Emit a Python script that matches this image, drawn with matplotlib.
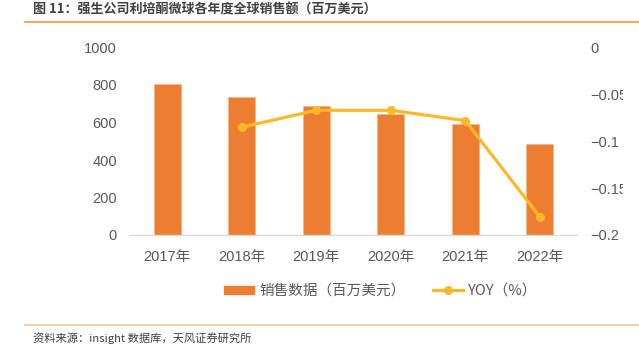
import matplotlib
matplotlib.use("Agg")
import matplotlib.pyplot as plt
from matplotlib.lines import Line2D
from matplotlib.patches import Patch
from matplotlib.transforms import Bbox, TransformedBbox
from matplotlib.ticker import FixedLocator, FixedFormatter

plt.rcParams['font.family'] = ['Liberation Sans', 'Noto Sans CJK SC', 'DejaVu Sans']
plt.rcParams['axes.unicode_minus'] = True

years = ["2017年", "2018年", "2019年", "2020年", "2021年", "2022年"]
sales = [805, 738, 688, 644, 594, 485]
yoy_years = ["2018年", "2019年", "2020年", "2021年", "2022年"]
yoy = [-0.085, -0.067, -0.067, -0.078, -0.1805]

left_ticks = [0, 200, 400, 600, 800, 1000]
right_ticks = [0, -0.05, -0.1, -0.15, -0.2]
right_labels = ["0", "\u22120.05", "\u22120.1", "\u22120.15", "\u22120.2"]

title = "图 11：强生公司利培酮微球各年度全球销售额（百万美元）"
source = "资料来源：insight 数据库，天风证券研究所"

bar_color = "#ED7D31"
line_color = "#FBB829"
tick_color = "#595959"

fig = plt.figure(figsize=(6.39, 3.51), dpi=100)
ax = fig.add_axes([130/639, 1-235/351, (577-130)/639, (235-47.5)/351])
x = list(range(len(years)))
ax.bar(x, sales, width=0.36, color=bar_color, edgecolor="#F4B183", linewidth=0.4, zorder=2)
ax.set_xlim(-0.5, len(years)-0.5)
ax.set_ylim(0, 1000)
ax.set_yticks(left_ticks)
ax.set_yticklabels([str(t) for t in left_ticks])
ax.set_xticks(x)
ax.set_xticklabels(years, fontfamily=['Liberation Sans', 'Noto Sans CJK SC'])
ax.tick_params(axis='y', length=0, pad=9.5, labelsize=10.5, labelcolor=tick_color)
ax.tick_params(axis='x', length=0, pad=11, labelsize=10.5, labelcolor=tick_color)
for s in ['top', 'right', 'left']:
    ax.spines[s].set_visible(False)
ax.spines['bottom'].set_color('#D9D9D9')
ax.spines['bottom'].set_linewidth(1.0)

ax2 = ax.twinx()
xi = [years.index(y) for y in yoy_years]
ax2.plot(xi, yoy, color=line_color, linewidth=2.3, marker='o', markersize=5.5, zorder=3)
ax2.set_ylim(-0.2, 0)
ax2.yaxis.set_major_locator(FixedLocator(right_ticks))
ax2.yaxis.set_major_formatter(FixedFormatter(right_labels))
ax2.tick_params(axis='y', length=0, pad=9.3, labelsize=10.5, labelcolor=tick_color)
for s in ['top', 'right', 'left', 'bottom']:
    ax2.spines[s].set_visible(False)

# the reference image is cropped at about x = 623 px: clip right tick labels there
clipbox = TransformedBbox(Bbox([[0, 0], [623/639, 1]]), fig.transFigure)
for t in ax2.yaxis.get_major_ticks():
    t.label2.set_clip_box(clipbox)
    t.label2.set_clip_on(True)

handles = [Patch(facecolor=bar_color, edgecolor=bar_color),
           Line2D([0], [0], color=line_color, linewidth=2.3, marker='o', markersize=5.5)]
labels = ["销售数据（百万美元）", "YOY（%）"]
fig.legend(handles, labels, loc='center', bbox_to_anchor=(381/639, 1-291/351), ncol=2,
           frameon=False, labelcolor=tick_color, handlelength=2.05,
           handleheight=0.5, columnspacing=1.9, handletextpad=0.35,
           prop={'family': ['Noto Sans CJK SC', 'Liberation Sans'], 'size': 10.5})

fig.text(33/639, 1-10/351, title, fontsize=9.4, fontweight='bold', color='#404040',
         va='center', ha='left', fontfamily=['Noto Sans CJK SC', 'DejaVu Sans'])
fig.add_artist(Line2D([25/639, 1], [1-22/351, 1-22/351], color='#F79646', linewidth=1.2))
fig.add_artist(Line2D([25/639, 1], [1-325/351, 1-325/351], color='#FAC090', linewidth=1.2))
fig.text(33/639, 1-338/351, source, fontsize=8.1, color='#404040',
         va='center', ha='left', fontfamily=['Noto Sans CJK SC', 'DejaVu Sans'])

fig.savefig("out.png", dpi=100)
